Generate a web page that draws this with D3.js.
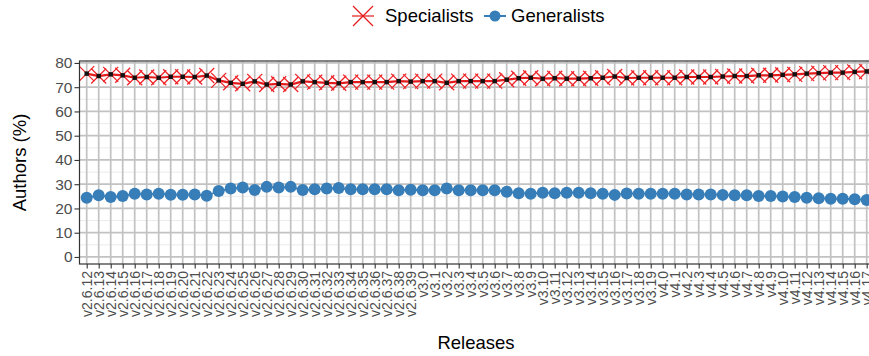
<!DOCTYPE html>
<html>
<head>
<meta charset="utf-8">
<script src="https://cdn.jsdelivr.net/npm/d3@7"></script>
<style>
  html, body { margin: 0; padding: 0; background: #fff; }
  svg { display: block; font-family: "Liberation Sans", Arial, Helvetica, sans-serif; }
</style>
</head>
<body>
<svg id="chart" width="869" height="356"></svg>
<script>
// Releases of the kernel, in order
const releases = [
  "v2.6.12","v2.6.13","v2.6.14","v2.6.15","v2.6.16","v2.6.17","v2.6.18","v2.6.19","v2.6.20","v2.6.21",
  "v2.6.22","v2.6.23","v2.6.24","v2.6.25","v2.6.26","v2.6.27","v2.6.28","v2.6.29","v2.6.30","v2.6.31",
  "v2.6.32","v2.6.33","v2.6.34","v2.6.35","v2.6.36","v2.6.37","v2.6.38","v2.6.39",
  "v3.0","v3.1","v3.2","v3.3","v3.4","v3.5","v3.6","v3.7","v3.8","v3.9","v3.10",
  "v3.11","v3.12","v3.13","v3.14","v3.15","v3.16","v3.17","v3.18","v3.19",
  "v4.0","v4.1","v4.2","v4.3","v4.4","v4.5","v4.6","v4.7","v4.8","v4.9","v4.10",
  "v4.11","v4.12","v4.13","v4.14","v4.15","v4.16","v4.17"
];

// Share of authors (%) per release
const specialists = [
  75.6, 74.6, 75.3, 74.9, 73.9, 74.2, 73.9, 74.3, 74.3, 74.2,
  74.8, 72.8, 71.8, 71.4, 72.4, 71.1, 71.4, 71.1, 72.4, 72.1,
  71.8, 71.6, 72.1, 72.1, 72.1, 72.1, 72.5, 72.3,
  72.5, 72.5, 71.8, 72.5, 72.5, 72.5, 72.5, 73.1, 73.7, 73.9, 73.5,
  73.7, 73.5, 73.5, 73.7, 73.9, 74.4, 73.8, 73.9, 73.9,
  73.9, 73.9, 74.2, 74.2, 74.2, 74.4, 74.6, 74.6, 74.9, 74.9, 75.1,
  75.3, 75.6, 75.8, 76.0, 76.0, 76.3, 76.5
];
const generalists = [
  24.4, 25.4, 24.7, 25.1, 26.1, 25.8, 26.1, 25.7, 25.7, 25.8,
  25.2, 27.2, 28.2, 28.6, 27.6, 28.9, 28.6, 28.9, 27.6, 27.9,
  28.2, 28.4, 27.9, 27.9, 27.9, 27.9, 27.5, 27.7,
  27.5, 27.5, 28.2, 27.5, 27.5, 27.5, 27.5, 26.9, 26.3, 26.1, 26.5,
  26.3, 26.5, 26.5, 26.3, 26.1, 25.6, 26.2, 26.1, 26.1,
  26.1, 26.1, 25.8, 25.8, 25.8, 25.6, 25.4, 25.4, 25.1, 25.1, 24.9,
  24.7, 24.4, 24.2, 24.0, 24.0, 23.8, 23.5
];

const yTicks = [0, 10, 20, 30, 40, 50, 60, 70, 80];
const yMinor = [5, 15, 25, 35, 45, 55, 65, 75];

const seriesNames = ["Specialists", "Generalists"];
const red = "#e41a1c", blue = "#377eb8";

const svg = d3.select("#chart");
const panel = { left: 79.5, top: 61, bottom: 264 };
const step = 12;

const x = d3.scalePoint()
  .domain(releases)
  .range([panel.left, panel.left + step * (releases.length - 1 + 1.2)])
  .padding(0.6);

const y = d3.scaleLinear()
  .domain([-2.9, 80.8])
  .range([panel.bottom, panel.top]);

const panelRight = x.range()[1];

// grid
const grid = svg.append("g");
grid.selectAll(".minor").data(yMinor).join("line")
  .attr("x1", panel.left).attr("x2", panelRight)
  .attr("y1", d => y(d)).attr("y2", d => y(d))
  .attr("stroke", "#e6e6e6").attr("stroke-width", 0.8);
grid.selectAll(".hmajor").data(yTicks).join("line")
  .attr("x1", panel.left).attr("x2", panelRight)
  .attr("y1", d => y(d)).attr("y2", d => y(d))
  .attr("stroke", "#c2c2c2").attr("stroke-width", 1.7);
grid.selectAll(".vmajor").data(releases).join("line")
  .attr("x1", d => x(d)).attr("x2", d => x(d))
  .attr("y1", panel.top).attr("y2", panel.bottom)
  .attr("stroke", "#c2c2c2").attr("stroke-width", 1.7);

// generalists: line + filled circles
const line = d3.line().x(d => x(d[0])).y(d => y(d[1]));
const genData = releases.map((r, i) => [r, generalists[i]]);
const specData = releases.map((r, i) => [r, specialists[i]]);

svg.append("path").datum(genData)
  .attr("d", line).attr("fill", "none")
  .attr("stroke", blue).attr("stroke-width", 1.8);
svg.append("g").selectAll("circle").data(genData).join("circle")
  .attr("cx", d => x(d[0])).attr("cy", d => y(d[1]))
  .attr("r", 6).attr("fill", blue);

// specialists: crosses, line and point markers
const xs = 7.5;
svg.append("g").selectAll("path").data(specData).join("path")
  .attr("d", d => {
    const cx = x(d[0]), cy = y(d[1]);
    return `M${cx - xs},${cy - xs}L${cx + xs},${cy + xs}M${cx - xs},${cy + xs}L${cx + xs},${cy - xs}`;
  })
  .attr("stroke", "#f0262a").attr("stroke-width", 1.3).attr("fill", "none");
svg.append("path").datum(specData)
  .attr("d", line).attr("fill", "none")
  .attr("stroke", red).attr("stroke-width", 2.2);
svg.append("g").selectAll("rect").data(specData).join("rect")
  .attr("x", d => x(d[0]) - 2.2).attr("y", d => y(d[1]) - 2.2)
  .attr("width", 4.4).attr("height", 4.4).attr("fill", "#111");

// panel border
svg.append("rect")
  .attr("x", panel.left).attr("y", panel.top)
  .attr("width", panelRight - panel.left).attr("height", panel.bottom - panel.top)
  .attr("fill", "none").attr("stroke", "#333").attr("stroke-width", 1.2);

// y axis
const yAxis = d3.axisLeft(y).tickValues(yTicks).tickSize(5).tickPadding(2);
const gy = svg.append("g").attr("transform", `translate(${panel.left},0)`).call(yAxis);
gy.select(".domain").remove();
gy.selectAll(".tick line").attr("stroke", "#333").attr("stroke-width", 1.1);
gy.selectAll(".tick text").attr("fill", "#4d4d4d").style("font-size", "15.5px")
  .style("font-family", "'Liberation Sans', Arial, sans-serif");

// x axis
const xAxis = d3.axisBottom(x).tickSize(4.5).tickPadding(2);
const gx = svg.append("g").attr("transform", `translate(0,${panel.bottom})`).call(xAxis);
gx.select(".domain").remove();
gx.selectAll(".tick line").attr("stroke", "#333").attr("stroke-width", 1.1);
gx.selectAll(".tick text")
  .attr("fill", "#4d4d4d")
  .style("font-size", "14px")
  .style("font-family", "'Liberation Sans', Arial, sans-serif")
  .attr("text-anchor", "end")
  .attr("dy", "0.35em")
  .attr("y", 0)
  .attr("transform", "translate(0,7) rotate(-90)");

// axis titles
svg.append("text")
  .attr("transform", `translate(26,${(panel.top + panel.bottom) / 2}) rotate(-90)`)
  .attr("text-anchor", "middle")
  .style("font-size", "18.5px").attr("fill", "#000")
  .text("Authors (%)");
svg.append("text")
  .attr("x", 476).attr("y", 349)
  .attr("text-anchor", "middle")
  .style("font-size", "18.5px").attr("fill", "#000")
  .text("Releases");

// legend
const legend = svg.append("g").attr("transform", "translate(0,16)");
const l1 = legend.append("g").attr("transform", "translate(363,0)");
l1.append("line").attr("x1", -11).attr("x2", 11).attr("stroke", red).attr("stroke-width", 1.2);
l1.append("path").attr("d", "M-10,-10L10,10M-10,10L10,-10")
  .attr("stroke", red).attr("stroke-width", 1.2).attr("fill", "none");
legend.append("text").attr("x", 385).attr("y", 0).attr("dy", "0.35em")
  .style("font-size", "18.5px").text(seriesNames[0]);

const l2 = legend.append("g").attr("transform", "translate(495,0)");
l2.append("line").attr("x1", -11).attr("x2", 11).attr("stroke", blue).attr("stroke-width", 2);
l2.append("circle").attr("r", 5.5).attr("fill", blue);
legend.append("text").attr("x", 511).attr("y", 0).attr("dy", "0.35em")
  .style("font-size", "18.5px").text(seriesNames[1]);
</script>
</body>
</html>
